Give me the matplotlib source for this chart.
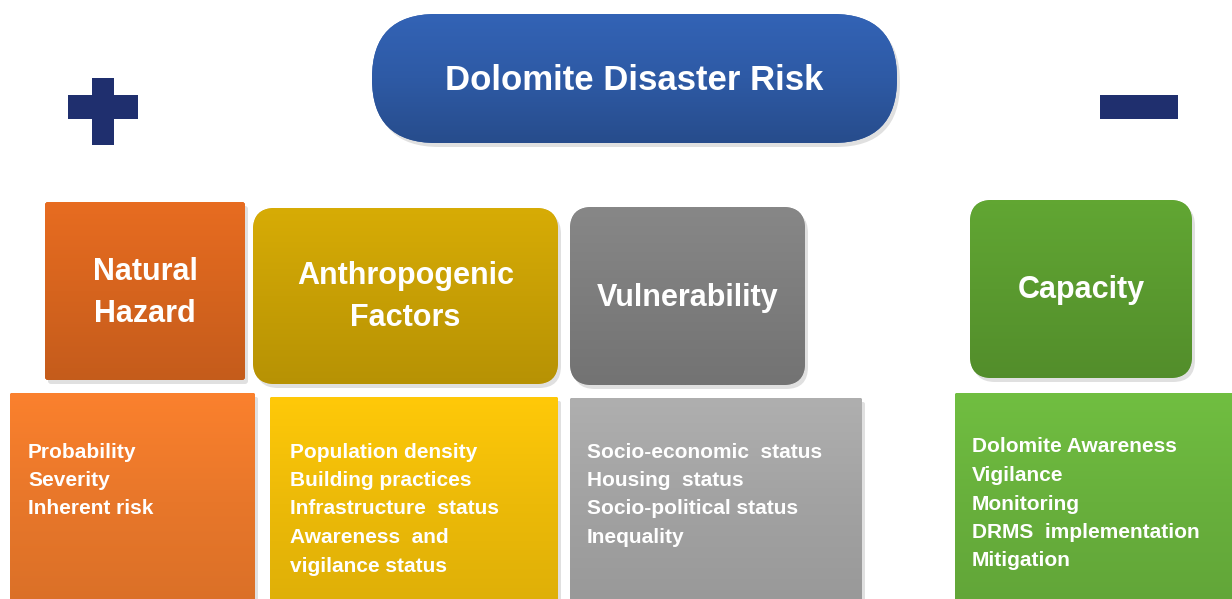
import numpy as np
import matplotlib
matplotlib.use('Agg')
import matplotlib.pyplot as plt
from matplotlib.patches import FancyBboxPatch, Rectangle

# --- content ---
title = 'Dolomite Disaster Risk'
headers = ['Natural\nHazard', 'Anthropogenic\nFactors', 'Vulnerability', 'Capacity']
items = [
    ['Probability', 'Severity', 'Inherent risk'],
    ['Population density', 'Building practices', 'Infrastructure  status',
     'Awareness  and', 'vigilance status'],
    ['Socio-economic  status', 'Housing  status', 'Socio-political status', 'Inequality'],
    ['Dolomite Awareness', 'Vigilance', 'Monitoring', 'DRMS  implementation', 'Mitigation'],
]
head_colors = ['#d6641e', '#c79f05', '#7d7d7d', '#5a9a2f']
item_colors = ['#e8772a', '#ecba08', '#a2a2a2', '#68b03c']

# layout in pixels (x0, y0, x1, y1), y from top
head_boxes = [(45, 202, 245, 380), (253, 208, 558, 384), (570, 207, 805, 385), (970, 200, 1192, 378)]
head_text_y = [293, 297, 298, 290]
head_round = [3, 22, 22, 22]
item_boxes = [(10, 393, 255, 610), (270, 397, 558, 610), (570, 398, 862, 610), (955, 393, 1240, 610)]
item_text_xy = [(28, 452), (290, 452), (587, 452), (972, 447)]
line_gap = 28.5

fig = plt.figure(figsize=(12.32, 5.99), dpi=100)
ax = fig.add_axes([0, 0, 1, 1])
ax.set_xlim(0, 1232)
ax.set_ylim(599, 0)
ax.axis('off')

font = ['Liberation Sans', 'DejaVu Sans']


def grad_box(x0, y0, x1, y1, color, pad, top_light=0.10, bottom_dark=0.10):
    # soft shadow
    sh = FancyBboxPatch((x0 + 3, y0 + 4), x1 - x0, y1 - y0,
                        boxstyle=f'round,pad=0,rounding_size={pad}',
                        fc='#000000', ec='none', alpha=0.12, zorder=1)
    ax.add_patch(sh)
    p = FancyBboxPatch((x0, y0), x1 - x0, y1 - y0,
                       boxstyle=f'round,pad=0,rounding_size={pad}',
                       fc=color, ec='none', zorder=2)
    ax.add_patch(p)
    c = np.array(matplotlib.colors.to_rgb(color))
    t = np.linspace(0, 1, 64)[:, None]
    shade = np.where(t < 0.5, 1 + top_light * (0.5 - t) * 2, 1 - bottom_dark * (t - 0.5) * 2)
    img = np.clip(c[None, None, :] * shade[:, :, None], 0, 1)
    img = np.repeat(img, 2, axis=1)
    im = ax.imshow(img, extent=(x0, x1, y1, y0), aspect='auto', zorder=3, interpolation='bilinear')
    im.set_clip_path(p)


# title pill
grad_box(372, 14, 897, 143, '#2e5aa5', 64, 0.10, 0.15)
ax.text(634, 80, title, color='white', fontsize=25, fontweight='bold',
        family=font, ha='center', va='center', zorder=5)

# plus and minus signs
sign_col = '#1f2f6e'
ax.add_patch(Rectangle((68, 95), 70, 24, fc=sign_col, ec='none', zorder=4))
ax.add_patch(Rectangle((92, 78), 22, 67, fc=sign_col, ec='none', zorder=4))
ax.add_patch(Rectangle((1100, 95), 78, 24, fc=sign_col, ec='none', zorder=4))

for i, head in enumerate(headers):
    x0, y0, x1, y1 = head_boxes[i]
    grad_box(x0, y0, x1, y1, head_colors[i], head_round[i], 0.08, 0.08)
    ax.text((x0 + x1) / 2, head_text_y[i], head, color='white', fontsize=22,
            fontweight='bold', family=font, ha='center', va='center',
            linespacing=1.5, zorder=5)

    x0, y0, x1, y1 = item_boxes[i]
    grad_box(x0, y0, x1, y1, item_colors[i], 2, 0.08, 0.06)
    tx, ty = item_text_xy[i]
    for k, line in enumerate(items[i]):
        ax.text(tx, ty + k * line_gap, line, color='white', fontsize=15,
                fontweight='bold', family=font, ha='left', va='center', zorder=5)

fig.savefig('out.png', dpi=100)
